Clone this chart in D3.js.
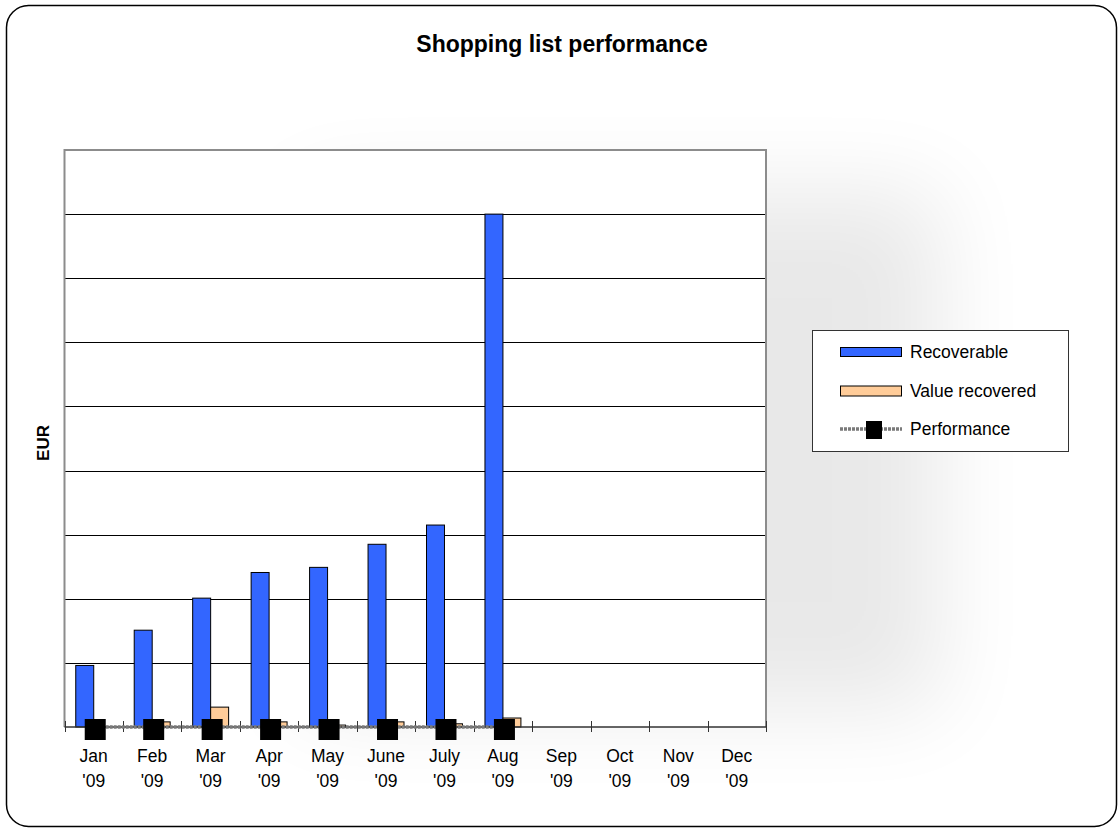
<!DOCTYPE html>
<html>
<head>
<meta charset="utf-8">
<script src="https://cdn.jsdelivr.net/npm/d3@7"></script>
<style>
  html, body { margin: 0; padding: 0; background: #fff; }
  svg { display: block; font-family: "Liberation Sans", Arial, sans-serif; }
</style>
</head>
<body>
<svg id="chart" width="1120" height="829"></svg>
<script>
const months = ["Jan", "Feb", "Mar", "Apr", "May", "June", "July", "Aug", "Sep", "Oct", "Nov", "Dec"];
const yearLabels = ["'09", "'09", "'09", "'09", "'09", "'09", "'09", "'09", "'09", "'09", "'09", "'09"];
const recoverable = [96, 151, 201, 241, 249, 285, 315, 800, null, null, null, null];
const valueRecovered = [0, 8, 31, 8, 3, 8, 5, 14, null, null, null, null];
const performance = [0, 0, 0, 0, 0, 0, 0, 0, null, null, null, null];
const yTicks = [0, 100, 200, 300, 400, 500, 600, 700, 800, 900];
const seriesNames = ["Recoverable", "Value recovered", "Performance"];
const colors = { rec: "#3366FF", val: "#FFCC99", perf: "#000000", line: "#7a7a7a" };

const svg = d3.select("#chart");
const defs = svg.append("defs");
const blur = defs.append("filter").attr("id", "blur").attr("x", "-50%").attr("y", "-50%").attr("width", "200%").attr("height", "200%");
blur.append("feGaussianBlur").attr("stdDeviation", 45);

// Chart area
const outer = { x: 6.5, y: 5.5, w: 1110, h: 821 };
svg.append("rect").attr("x", outer.x).attr("y", outer.y).attr("width", outer.w).attr("height", outer.h)
  .attr("rx", 22).attr("fill", "#fff");

const clip = defs.append("clipPath").attr("id", "outerClip");
clip.append("rect").attr("x", outer.x).attr("y", outer.y).attr("width", outer.w).attr("height", outer.h).attr("rx", 22);

// soft shadow behind plot
const plot = { left: 64.5, right: 766, top: 150, bottom: 727 };
svg.append("g").attr("clip-path", "url(#outerClip)")
  .append("rect")
  .attr("x", 300).attr("y", 190).attr("width", 640).attr("height", 520)
  .attr("fill", "#000").attr("opacity", 0.085).attr("filter", "url(#blur)");

svg.append("rect").attr("x", outer.x).attr("y", outer.y).attr("width", outer.w).attr("height", outer.h)
  .attr("rx", 22).attr("fill", "none").attr("stroke", "#000").attr("stroke-width", 1.5);

// Title
svg.append("text").attr("x", 562).attr("y", 52).attr("text-anchor", "middle")
  .attr("font-size", 23).attr("font-weight", "bold").attr("fill", "#000")
  .text("Shopping list performance");

// Scales
const x = d3.scaleBand().domain(months).range([plot.left, plot.right]).padding(0);
const bw = x.bandwidth();
const groupW = bw * 0.615;
const xs = d3.scaleBand().domain(["rec", "val"]).range([-groupW / 2, groupW / 2]).padding(0);
const y = d3.scaleLinear().domain([0, 900]).range([plot.bottom, plot.top]);

// plot area background
svg.append("rect").attr("x", plot.left).attr("y", plot.top)
  .attr("width", plot.right - plot.left).attr("height", plot.bottom - plot.top)
  .attr("fill", "#fff");

// gridlines
svg.append("g").selectAll("line").data(yTicks.filter(d => d > 0 && d < 900)).join("line")
  .attr("x1", plot.left).attr("x2", plot.right)
  .attr("y1", d => Math.round(y(d)) + 0.5).attr("y2", d => Math.round(y(d)) + 0.5)
  .attr("stroke", "#000").attr("stroke-width", 1);

// plot border (left, top, right)
svg.append("path")
  .attr("d", `M${plot.left},${plot.bottom} V${plot.top} H${plot.right} V${plot.bottom}`)
  .attr("fill", "none").attr("stroke", "#8c8c8c").attr("stroke-width", 2);

// bars
const gBars = svg.append("g");
months.forEach((m, i) => {
  if (recoverable[i] != null) {
    gBars.append("rect")
      .attr("x", x(m) + bw / 2 + xs("rec")).attr("y", y(recoverable[i]))
      .attr("width", xs.bandwidth()).attr("height", y(0) - y(recoverable[i]))
      .attr("fill", colors.rec).attr("stroke", "#000").attr("stroke-width", 1);
  }
  if (valueRecovered[i] != null && valueRecovered[i] > 0) {
    gBars.append("rect")
      .attr("x", x(m) + bw / 2 + xs("val")).attr("y", y(valueRecovered[i]))
      .attr("width", xs.bandwidth()).attr("height", y(0) - y(valueRecovered[i]))
      .attr("fill", colors.val).attr("stroke", "#000").attr("stroke-width", 1);
  }
});

// x axis
const xAxis = svg.append("g");
xAxis.append("line").attr("x1", plot.left).attr("x2", plot.right)
  .attr("y1", plot.bottom).attr("y2", plot.bottom).attr("stroke", "#333").attr("stroke-width", 1.5);
const boundaries = months.map(m => x(m)).concat([plot.right]);
xAxis.selectAll("line.tick").data(boundaries).join("line").attr("class", "tick")
  .attr("x1", d => Math.round(d) + 0.5).attr("x2", d => Math.round(d) + 0.5)
  .attr("y1", plot.bottom - 6).attr("y2", plot.bottom + 5)
  .attr("stroke", "#333").attr("stroke-width", 1);

// performance line
const perfData = months.map((m, i) => ({ m, v: performance[i] })).filter(d => d.v != null);
const line = d3.line().x(d => x(d.m) + bw / 2).y(d => y(d.v));
svg.append("path").datum(perfData).attr("d", line)
  .attr("fill", "none").attr("stroke", colors.line).attr("stroke-width", 3.5)
  .attr("stroke-dasharray", "3,1");
svg.append("g").selectAll("rect").data(perfData).join("rect")
  .attr("x", d => x(d.m) + bw / 2 - 9).attr("y", d => y(d.v) - 8)
  .attr("width", 21).attr("height", 21).attr("fill", colors.perf);

// x labels
const xl = svg.append("g").attr("font-size", 17.5).attr("fill", "#000").attr("text-anchor", "middle");
months.forEach((m, i) => {
  const cx = x(m) + bw / 2;
  xl.append("text").attr("x", cx).attr("y", 762).text(m);
  xl.append("text").attr("x", cx).attr("y", 787).text(yearLabels[i]);
});

// y label
svg.append("text").attr("transform", "translate(49,443) rotate(-90)")
  .attr("text-anchor", "middle").attr("font-size", 17).attr("font-weight", "bold").text("EUR");

// legend
const lg = svg.append("g");
lg.append("rect").attr("x", 812.5).attr("y", 330.5).attr("width", 256).attr("height", 121)
  .attr("fill", "#fff").attr("stroke", "#333").attr("stroke-width", 1);
const legY = [352, 391, 429];
lg.append("rect").attr("x", 840.5).attr("y", legY[0] - 4.5).attr("width", 61).attr("height", 9)
  .attr("fill", colors.rec).attr("stroke", "#000");
lg.append("rect").attr("x", 840.5).attr("y", legY[1] - 5).attr("width", 61).attr("height", 10)
  .attr("fill", colors.val).attr("stroke", "#000");
lg.append("line").attr("x1", 840).attr("x2", 902).attr("y1", legY[2]).attr("y2", legY[2])
  .attr("stroke", colors.line).attr("stroke-width", 3.5).attr("stroke-dasharray", "3,1");
lg.append("rect").attr("x", 866).attr("y", legY[2] - 8).attr("width", 16).attr("height", 18).attr("fill", "#000");
seriesNames.forEach((s, i) => {
  lg.append("text").attr("x", 910).attr("y", legY[i] + 6).attr("font-size", 17.5).text(s);
});
</script>
</body>
</html>
